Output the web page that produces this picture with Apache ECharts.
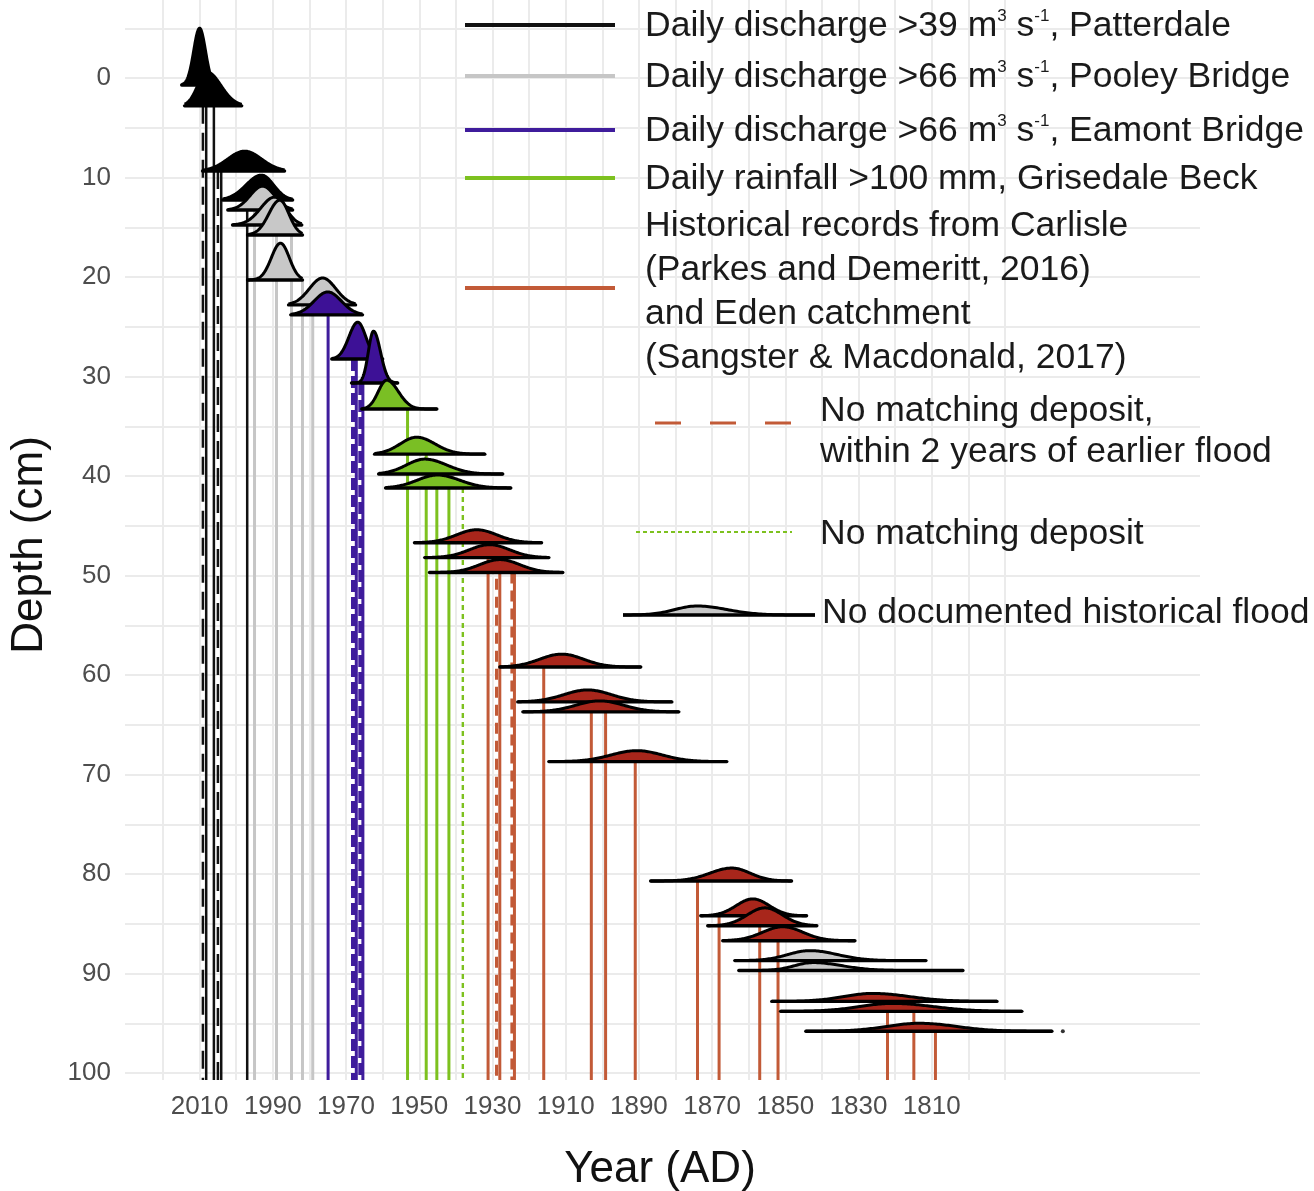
<!DOCTYPE html>
<html><head><meta charset="utf-8">
<script src="https://cdn.jsdelivr.net/npm/echarts@6/dist/echarts.min.js"></script>
<style>html,body{margin:0;padding:0;background:#fff}#c{width:1314px;height:1191px}</style>
</head><body><div id="c"></div>
<script>
// ---------------- DATA ----------------
const groupNames = ['patterdale','pooley','eamont','grisedale','historical','undocumented'];
// ridges (density curves of each dated layer), top to bottom
const ridgeGroup  = [0,0,0,0,1,1,1,1,1,2,2,2,3,3,3,3,4,4,4,4,4,4,4,4,4,4,4,5,5,4,4,4];
const ridgeDepth  = [0.7,2.8,9.35,12.26,13.27,14.77,15.78,20.3,22.8,23.8,28.24,30.65,33.27,37.8,39.8,41.2,46.7,48.2,49.7,59.2,62.7,63.7,68.7,80.7,84.2,85.2,86.7,88.7,89.7,92.8,93.8,95.8];
const ridgeStart  = [2014.9,2014.1,2009.2,2003.7,2002.3,2001.0,1996.9,1996.9,1985.7,1985.1,1973.9,1968.5,1965.7,1962.2,1961.1,1959.2,1951.3,1948.5,1947.2,1928.0,1923.1,1921.7,1914.6,1886.8,1873.1,1871.2,1867.1,1863.8,1862.7,1853.7,1851.3,1844.4];
const ridgePeak   = [2010.0,2008.0,1997.7,1993.1,1992.8,1989.5,1988.1,1987.9,1976.4,1975.0,1966.8,1962.5,1958.9,1950.7,1948.5,1945.0,1934.3,1930.8,1928.0,1911.1,1904.0,1900.7,1890.6,1864.6,1858.9,1855.6,1850.7,1843.3,1842.5,1826.1,1820.7,1813.3];
const ridgeEnd    = [2004.5,1998.5,1986.8,1984.6,1984.6,1982.1,1981.9,1981.9,1967.4,1965.5,1960.0,1955.9,1945.2,1932.1,1927.2,1925.0,1916.6,1914.6,1910.8,1889.5,1881.0,1879.1,1866.0,1848.3,1844.2,1841.4,1831.0,1811.6,1801.5,1792.2,1785.4,1777.2];
const ridgeHeight = [5.7,3.4,2.0,2.5,2.4,2.8,3.5,3.7,2.7,2.3,3.7,5.2,2.9,1.7,1.5,1.3,1.3,1.3,1.3,1.3,1.2,1.1,1.1,1.3,1.7,1.8,1.4,1.0,0.8,0.8,0.8,0.8];
const ridgeSpreadRecent = [1.6,2.5,4.6,4.2,3.4,3.8,3.0,2.5,3.6,3.7,2.4,1.4,2.3,4.5,5.0,5.5,5.5,5.5,5.5,6.0,6.5,6.5,7.0,6.0,4.5,4.8,5.5,6.0,5.0,8.0,9.0,9.0];
const ridgeSpreadOlder  = [1.6,3.8,4.6,3.3,3.3,3.0,2.5,2.4,3.6,3.7,2.2,1.9,3.2,5.0,6.0,6.0,5.5,5.5,5.5,6.0,6.5,6.5,7.0,5.0,4.5,4.8,5.5,7.5,8.0,10.0,11.0,10.0];

// vertical lines linking layers to flood years
const dropYear  = [2009.1,2008.2,2006.1,2005.0,2004.1,1997.0, 1995.0,1989.0,1984.9,1981.9,1979.1, 1974.9,1968.1,1967.2,1966.1,1965.4, 1953.2,1948.1,1945.2,1941.9,1938.1, 1931.2,1928.9,1928.0,1924.7,1924.0,1916.0,1903.0,1899.1,1891.0,1874.0,1868.1,1857.0,1852.0,1822.1,1814.9,1809.0];
const dropTop   = [2.8,2.8,2.8,9.35,9.35,12.26, 13.27,14.77,15.78,20.3,22.8, 23.8,28.24,28.24,30.65,30.65, 33.27,37.8,39.8,41.2,41.2, 46.7,46.7,48.2,49.7,49.7,59.2,62.7,63.7,68.7,80.7,84.2,85.2,86.7,92.8,93.8,95.8];
const dropGroup = [0,0,0,0,0,0, 1,1,1,1,1, 2,2,2,2,2, 3,3,3,3,3, 4,4,4,4,4,4,4,4,4,4,4,4,4,4,4,4];
const dropStyle = ['dashed','solid','solid','dashed','solid','solid', 'solid','solid','solid','solid','solid', 'solid','dashed','solid','dashed','solid', 'solid','solid','solid','solid','dotted', 'solid','dashed','solid','dashed','solid','solid','solid','solid','solid','solid','solid','solid','solid','solid','solid','solid'];
const coreBase = 100.7;
const tailDot = [[1774.2, 95.8]];

const xTickLabels = [2010,1990,1970,1950,1930,1910,1890,1870,1850,1830,1810];
const yTickLabels = [0,10,20,30,40,50,60,70,80,90,100];

const legendRows = [
  {g:0, lines:['Daily discharge >39 m{sup|3} s{sup|-1}, Patterdale']},
  {g:1, lines:['Daily discharge >66 m{sup|3} s{sup|-1}, Pooley Bridge']},
  {g:2, lines:['Daily discharge >66 m{sup|3} s{sup|-1}, Eamont Bridge']},
  {g:3, lines:['Daily rainfall >100 mm, Grisedale Beck']},
  {g:4, lines:['Historical records from Carlisle','(Parkes and Demeritt, 2016)','and Eden catchment','(Sangster & Macdonald, 2017)']}
];

// ---------------- STYLE ----------------
const FONT = "'Liberation Sans', Arial, sans-serif";
const fillCol = ['#000000','#c8c8c8','#3d1196','#7abf24','#a8261b','#c8c8c8'];
const lineCol = ['#111111','#c6c6c6','#3f1c9c','#7dc11f','#c25a37','#c6c6c6'];
const gridCol = '#ebebeb';
const ZG = 60;
const LFONT = '35.5px ' + FONT;

const ridgeData = ridgeDepth.map((d,i)=>[ridgeStart[i], d, ridgePeak[i], ridgeEnd[i], ridgeHeight[i], ridgeSpreadRecent[i], ridgeSpreadOlder[i], ridgeGroup[i]]);
const dropData = dropYear.map((y,i)=>[y, dropTop[i], coreBase, dropGroup[i], ['solid','dashed','dotted'].indexOf(dropStyle[i])]);

function renderRidge(params, api){
  const s=api.value(0), d=api.value(1), pk=api.value(2), e=api.value(3), h=api.value(4), sl=api.value(5), sr=api.value(6), g=api.value(7);
  const pts=[api.coord([s,d])];
  const n=140;
  for(let k=0;k<=n;k++){
    const yr=s+(e-s)*k/n;
    const sg= yr>pk? sl: sr;
    const v=h*Math.exp(-0.5*Math.pow((yr-pk)/sg,2));
    pts.push(api.coord([yr,d-v]));
  }
  pts.push(api.coord([e,d]));
  return {type:'group', children:[
    {type:'polygon', shape:{points:pts}, style:{fill:fillCol[g], stroke:'none'}},
    {type:'polyline', shape:{points:pts.slice(1,-1)}, style:{fill:'none', stroke:'#000', lineWidth:3, lineJoin:'round'}},
    {type:'line', shape:{x1:pts[0][0],y1:pts[0][1],x2:pts[pts.length-1][0],y2:pts[pts.length-1][1]}, style:{stroke:'#000', lineWidth:3.4, lineCap:'round'}}
  ]};
}
function renderDrop(params, api){
  const yr=api.value(0), t=api.value(1), b=api.value(2), g=api.value(3), st=api.value(4);
  const p1=api.coord([yr,t]), p2=api.coord([yr,b]);
  let w=2.8, dash=null;
  if(st===1){
    if(g===0){w=2.5; dash=[18,9];}
    else if(g===2){w=4; dash=[12,5];}
    else {w=3; dash=[11,7];}
  } else if(st===2){ w=2.4; dash=[5,4]; }
  else { w = g===0?2.5:3; }
  return {type:'line', shape:{x1:p1[0],y1:p1[1],x2:p2[0],y2:p2[1]}, style:{stroke:lineCol[g], lineWidth:w, lineDash:dash}};
}

// ---------------- LEGEND GRAPHICS ----------------
const graphics=[];
const legY=[25,76,130,178];
for(let r=0;r<4;r++){
  graphics.push({type:'line', z:ZG, shape:{x1:465,y1:legY[r],x2:615,y2:legY[r]}, style:{stroke:lineCol[legendRows[r].g], lineWidth:4}});
  graphics.push({type:'text', z:ZG, x:645, y:legY[r]+1, style:{text:legendRows[r].lines[0], font:LFONT, fill:'#1a1a1a', verticalAlign:'middle',
    rich:{sup:{fontSize:17, fontFamily:FONT, verticalAlign:'top', lineHeight:20, fill:'#1a1a1a'}}}});
}
graphics.push({type:'line', z:ZG, shape:{x1:465,y1:288,x2:615,y2:288}, style:{stroke:lineCol[4], lineWidth:4}});
legendRows[4].lines.forEach((t,i)=>{
  graphics.push({type:'text', z:ZG, x:645, y:226+44*i, style:{text:t, font:LFONT, fill:'#1a1a1a', verticalAlign:'middle'}});
});
graphics.push({type:'line', z:ZG, shape:{x1:655,y1:423,x2:792,y2:423}, style:{stroke:lineCol[4], lineWidth:3, lineDash:[26,29]}});
graphics.push({type:'text', z:ZG, x:820, y:411, style:{text:'No matching deposit,', font:LFONT, fill:'#1a1a1a', verticalAlign:'middle'}});
graphics.push({type:'text', z:ZG, x:820, y:452, style:{text:'within 2 years of earlier flood', font:LFONT, fill:'#1a1a1a', verticalAlign:'middle'}});
graphics.push({type:'line', z:ZG, shape:{x1:636,y1:532,x2:792,y2:532}, style:{stroke:lineCol[3], lineWidth:2.2, lineDash:[4,3]}});
graphics.push({type:'text', z:ZG, x:820, y:534, style:{text:'No matching deposit', font:LFONT, fill:'#1a1a1a', verticalAlign:'middle'}});
(function(){
  const pts=[[623,615]];
  for(let x=623;x<=815;x+=2){const sg=x<697?22:30; pts.push([x,615-9*Math.exp(-0.5*Math.pow((x-697)/sg,2))]);}
  pts.push([815,615]);
  graphics.push({type:'polygon', z:ZG, shape:{points:pts}, style:{fill:'#c8c8c8', stroke:'none'}});
  graphics.push({type:'polyline', z:ZG, shape:{points:pts.slice(1,-1)}, style:{stroke:'#000', lineWidth:3, fill:'none'}});
  graphics.push({type:'line', z:ZG, shape:{x1:623,y1:615,x2:815,y2:615}, style:{stroke:'#000', lineWidth:3.4}});
})();
graphics.push({type:'text', z:ZG, x:822, y:613, style:{text:'No documented historical flood', font:LFONT, fill:'#1a1a1a', verticalAlign:'middle'}});
// axis titles
graphics.push({type:'text', z:ZG, x:660, y:1170, style:{text:'Year (AD)', font:'44px '+FONT, fill:'#111', align:'center', verticalAlign:'middle'}});
graphics.push({type:'text', z:ZG, x:30, y:545, rotation:Math.PI/2, style:{text:'Depth (cm)', font:'44px '+FONT, fill:'#111', align:'center', verticalAlign:'middle'}});

// ---------------- CHART ----------------
const chart = echarts.init(document.getElementById('c'), null, {renderer:'canvas'});
chart.setOption({
  backgroundColor:'#ffffff',
  animation:false,
  grid:[
    {left:163, top:0, width:842, height:1080, outerBoundsMode:'none', containLabel:false},
    {left:125, top:-21.5, width:1075, height:1094.5, outerBoundsMode:'none', containLabel:false}
  ],
  xAxis:[
    {gridIndex:0, type:'value', min:1790, max:2020, interval:10, inverse:true,
     axisLine:{show:false}, axisTick:{show:false},
     splitLine:{show:true, lineStyle:{color:gridCol, width:2}},
     axisLabel:{margin:14, fontSize:26, fontFamily:FONT, color:'#4d4d4d',
       formatter:v=> xTickLabels.indexOf(Math.round(v))>=0 ? String(Math.round(v)) : ''}},
    {gridIndex:1, type:'value', min:0, max:1, show:false}
  ],
  yAxis:[
    {gridIndex:0, type:'value', min:-7.84, max:100.7, inverse:true, show:false},
    {gridIndex:1, type:'value', min:-10, max:100, interval:5, inverse:true,
     axisLine:{show:false}, axisTick:{show:false},
     splitLine:{show:true, lineStyle:{color:gridCol, width:2}},
     axisLabel:{margin:14, fontSize:26, fontFamily:FONT, color:'#4d4d4d',
       formatter:v=> yTickLabels.indexOf(Math.round(v))>=0 ? String(Math.round(v)) : ''}}
  ],
  series:[
    {type:'custom', xAxisIndex:0, yAxisIndex:0, clip:false, z:2, renderItem:renderDrop, data:dropData, silent:true},
    {type:'custom', xAxisIndex:0, yAxisIndex:0, clip:false, z:3, renderItem:renderRidge, data:ridgeData, silent:true},
    {type:'scatter', xAxisIndex:0, yAxisIndex:0, clip:false, z:4, symbolSize:4, itemStyle:{color:'#000'}, data:tailDot, silent:true}
  ],
  graphic:graphics
});
</script></body></html>
